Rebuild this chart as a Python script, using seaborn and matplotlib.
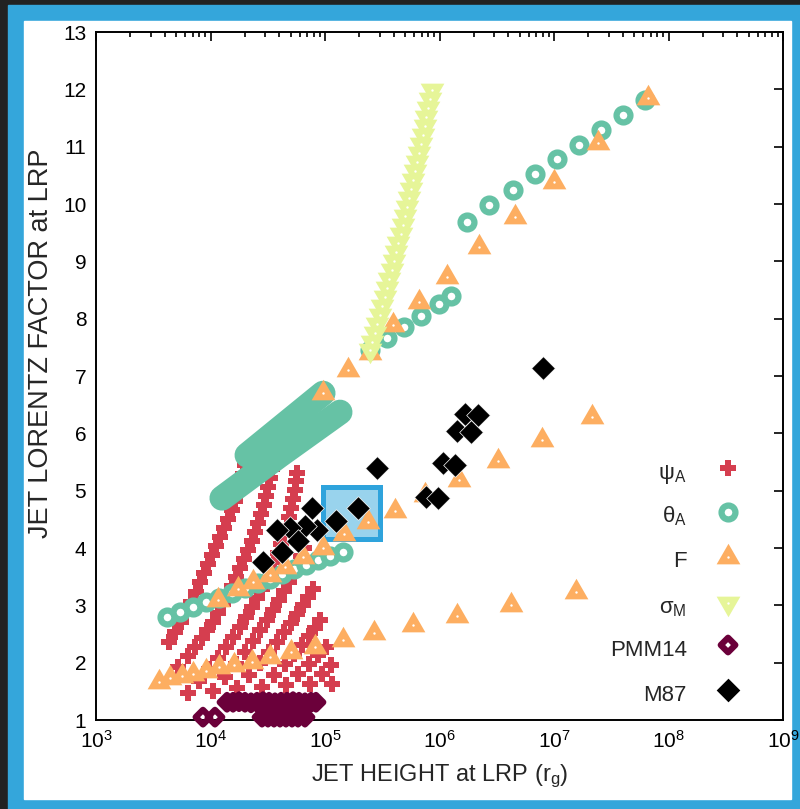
import numpy as np
import matplotlib
matplotlib.use("Agg")
import matplotlib.pyplot as plt
from matplotlib.markers import MarkerStyle
from matplotlib.patches import Rectangle
from matplotlib.ticker import LogLocator, NullLocator
import seaborn as sns

sns.set_style("white")
plt.rcParams["font.family"] = ["Liberation Sans", "DejaVu Sans"]
plt.rcParams["mathtext.fontset"] = "custom"
plt.rcParams["mathtext.rm"] = "Liberation Sans"
plt.rcParams["mathtext.it"] = "Liberation Sans:italic"
plt.rcParams["mathtext.bf"] = "Liberation Sans:bold"

# ---- data: log10 of jet height (r_g) and jet Lorentz factor at the LRP ----
# psi_A, one list per model curve
psi_logh = [
    [3.638, 3.690, 3.742, 3.786, 3.830, 3.873, 3.908, 3.943, 3.978, 4.013,
     4.048, 4.083, 4.118, 4.153, 4.188, 4.214, 4.240, 4.266, 4.284, 4.301],
    [3.716, 3.803, 3.865, 3.926, 3.969, 4.022, 4.066, 4.109, 4.153, 4.188, 4.223, 4.258,
     4.293, 4.328, 4.362, 4.389, 4.415, 4.441, 4.467, 4.485, 4.502, 4.520, 4.537],
    [3.803, 3.900, 3.987, 4.066, 4.135, 4.197, 4.258, 4.310, 4.362, 4.406, 4.450, 4.485,
     4.520, 4.555, 4.590, 4.616, 4.642, 4.668, 4.686, 4.703, 4.721, 4.738, 4.747, 4.755],
    [4.022, 4.127, 4.223, 4.301, 4.371, 4.432, 4.493, 4.546, 4.598, 4.642, 4.686, 4.721,
     4.755, 4.790, 4.817],
    [4.231, 4.336, 4.432, 4.511, 4.581, 4.642, 4.703, 4.755, 4.808, 4.852, 4.895],
    [4.450, 4.555, 4.651, 4.729, 4.799, 4.860, 4.913, 4.956],
    [4.659, 4.764, 4.860, 4.939, 5.009],
    [4.869, 4.974, 5.052],
    [5.061],
]
psi_gamma = [
    [2.36, 2.54, 2.71, 2.88, 3.06, 3.23, 3.41, 3.56, 3.72, 3.88,
     4.04, 4.19, 4.35, 4.51, 4.66, 4.82, 4.98, 5.13, 5.29, 5.45],
    [1.92, 2.12, 2.27, 2.43, 2.57, 2.71, 2.87, 3.02, 3.18, 3.34, 3.49, 3.65,
     3.81, 3.97, 4.12, 4.28, 4.44, 4.59, 4.75, 4.91, 5.06, 5.22, 5.38],
    [1.47, 1.68, 1.89, 2.08, 2.27, 2.45, 2.62, 2.80, 2.97, 3.13, 3.29, 3.44,
     3.60, 3.76, 3.91, 4.07, 4.23, 4.38, 4.54, 4.70, 4.86, 5.01, 5.17, 5.31],
    [1.51, 1.75, 1.98, 2.19, 2.38, 2.57, 2.74, 2.92, 3.09, 3.25, 3.41, 3.56,
     3.72, 3.86, 4.00],
    [1.56, 1.79, 2.00, 2.19, 2.36, 2.54, 2.69, 2.85, 3.01, 3.15, 3.29],
    [1.58, 1.79, 1.98, 2.15, 2.31, 2.47, 2.61, 2.74],
    [1.61, 1.80, 1.98, 2.13, 2.27],
    [1.63, 1.80, 1.96],
    [1.63],
]

# theta_A: two chains of points and two dense bands
theta_low_logh = [3.620, 3.734, 3.847, 3.961, 4.074, 4.188, 4.301, 4.415,
                  4.520, 4.624, 4.729, 4.834, 4.939, 5.044, 5.157]
theta_low_gamma = [2.80, 2.88, 2.97, 3.06, 3.13, 3.22, 3.30, 3.39,
                   3.46, 3.55, 3.63, 3.70, 3.79, 3.86, 3.93]
theta_high_logh = [5.393, 5.541, 5.690, 5.838, 5.996, 6.100, 6.240, 6.432,
                   6.642, 6.834, 7.026, 7.218, 7.410, 7.603, 7.795]
theta_high_gamma = [7.45, 7.66, 7.86, 8.05, 8.26, 8.40, 9.69, 9.98,
                    10.24, 10.52, 10.79, 11.03, 11.29, 11.55, 11.81]
band1_logh = [4.100, 4.607, 5.131]
band1_gamma = [4.87, 5.62, 6.37]
band2_logh = [4.319, 4.983]
band2_gamma = [5.62, 6.70]

# F
f_low_logh = [3.550, 3.646, 3.751, 3.847, 3.961, 4.074, 4.205, 4.362, 4.520,
              4.703, 4.913, 5.157, 5.428, 5.769, 6.153, 6.624, 7.192]
f_low_gamma = [1.66, 1.73, 1.77, 1.80, 1.86, 1.92, 1.96, 2.01, 2.10,
               2.19, 2.27, 2.40, 2.52, 2.66, 2.81, 3.01, 3.23]
f_mid_logh = [4.066, 4.240, 4.371, 4.520, 4.651, 4.808, 4.983, 5.166,
              5.376, 5.611, 5.873, 6.170, 6.511, 6.895, 7.332]
f_mid_gamma = [3.09, 3.29, 3.41, 3.53, 3.67, 3.84, 4.00, 4.24,
               4.45, 4.65, 4.93, 5.19, 5.52, 5.88, 6.29]
f_high_logh = [4.983, 5.201, 5.393, 5.594, 5.821, 6.066, 6.345, 6.659, 7.000, 7.384, 7.821]
f_high_gamma = [6.70, 7.10, 7.40, 7.89, 8.29, 8.73, 9.25, 9.77, 10.38, 11.06, 11.85]

# sigma_M
sigma_logh = [5.934, 5.919, 5.903, 5.886, 5.871, 5.855, 5.838, 5.822, 5.804, 5.788,
              5.770, 5.753, 5.735, 5.717, 5.698, 5.679, 5.660, 5.641, 5.621, 5.601,
              5.582, 5.561, 5.540, 5.520, 5.498, 5.477, 5.455, 5.433, 5.412, 5.393]
sigma_gamma = [11.99, 11.83, 11.68, 11.52, 11.36, 11.20, 11.05, 10.89, 10.73, 10.58,
               10.42, 10.26, 10.11, 9.95, 9.79, 9.63, 9.48, 9.32, 9.16, 9.01,
               8.85, 8.69, 8.54, 8.38, 8.22, 8.06, 7.91, 7.75, 7.59, 7.45]

# PMM14
pmm_logh = [4.144, 4.197, 4.249, 4.301, 4.354, 4.406, 4.459, 4.511, 4.563, 4.616,
            4.668, 4.721, 4.773, 4.825, 4.878, 4.921,
            3.934, 4.039, 4.450, 4.502, 4.555, 4.607, 4.659, 4.712, 4.764, 4.825]
pmm_gamma = [1.31, 1.31, 1.32, 1.31, 1.30, 1.31, 1.32, 1.31, 1.30, 1.31,
             1.31, 1.32, 1.31, 1.30, 1.31, 1.31,
             1.05, 1.05, 1.05, 1.05, 1.05, 1.05, 1.05, 1.05, 1.05, 1.05]

# M87
m87_logh = [6.904, 6.223, 6.336, 6.153, 6.275, 6.031, 6.135, 5.882, 5.987, 5.454,
            5.288, 5.096, 4.886, 4.930, 4.825, 4.694, 4.581, 4.764, 4.624, 4.459]
m87_gamma = [7.14, 6.34, 6.32, 6.04, 6.02, 5.48, 5.45, 4.89, 4.87, 5.40,
             4.70, 4.47, 4.70, 4.31, 4.38, 4.35, 4.31, 4.12, 3.93, 3.76]

# highlighted region
box_h = [9.7e4, 3.05e5]
box_gamma = [4.15, 5.06]

# ---- style ----
c_psi, c_theta, c_f = "#d53e4f", "#66c2a5", "#fdae61"
c_sigma, c_pmm, c_m87 = "#e6f598", "#6b003a", "black"

tri_up = MarkerStyle((3, 0, 0))
tri_dn = MarkerStyle((3, 0, 180))
diam = MarkerStyle((4, 0, 0), joinstyle="miter")

s_psi, s_circ, s_tri, s_pmm, s_m87 = 140, 100, 390, 110, 290
lw_ring = 4.5

fig = plt.figure(figsize=(8, 8.09), dpi=100)
fig.patch.set_facecolor("#222222")
fig.add_artist(Rectangle((8 / 800, 0), 792 / 800, 804 / 809, transform=fig.transFigure,
                         color="#34a6db", zorder=-10))
fig.add_artist(Rectangle((24 / 800, 10 / 809), 767 / 800, 778 / 809, transform=fig.transFigure,
                         color="white", zorder=-9))
ax = fig.add_axes([0.12, 0.110, 0.85875, 0.8504])
ax.set_xscale("log")

ax.add_patch(Rectangle((box_h[0], box_gamma[0]), box_h[1] - box_h[0], box_gamma[1] - box_gamma[0],
                       facecolor="#99d3ed", edgecolor="#2ea3dc", lw=3.6, zorder=1))

# psi_A
for lh, g in zip(psi_logh, psi_gamma):
    sns.scatterplot(x=10 ** np.array(lh), y=g, ax=ax, marker="P", s=s_psi, color=c_psi,
                    linewidth=0, zorder=2)

# theta_A bands + chains
for lh, g in [(band1_logh, band1_gamma), (band2_logh, band2_gamma)]:
    sns.lineplot(x=10 ** np.array(lh), y=g, ax=ax, sort=False, estimator=None, color=c_theta,
                 lw=18, solid_capstyle="round", zorder=3)
for lh, g in [(theta_low_logh, theta_low_gamma), (theta_high_logh, theta_high_gamma)]:
    sns.scatterplot(x=10 ** np.array(lh), y=g, ax=ax, marker="o", s=s_circ, facecolor="white",
                    edgecolor=c_theta, linewidth=lw_ring, zorder=3)

# F
for lh, g in [(f_low_logh, f_low_gamma), (f_mid_logh, f_mid_gamma), (f_high_logh, f_high_gamma)]:
    x = 10 ** np.array(lh)
    sns.scatterplot(x=x, y=g, ax=ax, marker=tri_up, s=s_tri, color=c_f, linewidth=0, zorder=4)
    sns.scatterplot(x=x, y=g, ax=ax, marker="o", s=3, color="white", linewidth=0, zorder=4.1)

# sigma_M
x = 10 ** np.array(sigma_logh)
sns.scatterplot(x=x, y=sigma_gamma, ax=ax, marker=tri_dn, s=s_tri, color=c_sigma, linewidth=0, zorder=5)
sns.scatterplot(x=x, y=sigma_gamma, ax=ax, marker="o", s=3, color="white", linewidth=0, zorder=5.1)

# PMM14
sns.scatterplot(x=10 ** np.array(pmm_logh), y=pmm_gamma, ax=ax, marker=diam, s=s_pmm,
                facecolor="none", edgecolor=c_pmm, linewidth=lw_ring, zorder=6, clip_on=False)

# M87
sns.scatterplot(x=10 ** np.array(m87_logh), y=m87_gamma, ax=ax, marker=diam, s=s_m87,
                color=c_m87, edgecolor="white", linewidth=0.5, zorder=7)

# ---- legend drawn by hand, gnuplot style ----
labels = ["ψ$_{\\mathrm{A}}$", "θ$_{\\mathrm{A}}$", "F", "σ$_{\\mathrm{M}}$", "PMM14", "M87"]
rows = [0.366, 0.302, 0.237, 0.170, 0.109, 0.0436]
styles = [
    dict(marker="P", s=s_psi, color=c_psi, linewidth=0),
    dict(marker="o", s=s_circ, facecolor="white", edgecolor=c_theta, linewidth=lw_ring),
    dict(marker=tri_up, s=s_tri, color=c_f, linewidth=0),
    dict(marker=tri_dn, s=s_tri, color=c_sigma, linewidth=0),
    dict(marker=diam, s=s_pmm, facecolor="none", edgecolor=c_pmm, linewidth=lw_ring),
    dict(marker=diam, s=s_m87, color=c_m87, linewidth=0),
]
for lab, yy, st in zip(labels, rows, styles):
    ax.text(0.86, yy - 0.0153, lab, transform=ax.transAxes, ha="right", va="baseline",
            fontsize=16)
    ax.scatter([0.92], [yy], transform=ax.transAxes, zorder=8, **st)
    if lab in ("F", "σ$_{\\mathrm{M}}$"):
        ax.scatter([0.92], [yy], transform=ax.transAxes, marker="o", s=3, color="white",
                   linewidth=0, zorder=9)

# ---- axes ----
ax.set_xlim(1e3, 1e9)
ax.set_ylim(1, 13)
ax.set_yticks(range(1, 14))
ax.xaxis.set_major_locator(LogLocator(base=10, numticks=10))
ax.xaxis.set_minor_locator(LogLocator(base=10, subs=np.arange(2, 10), numticks=20))
ax.yaxis.set_minor_locator(NullLocator())
ax.tick_params(which="both", direction="in", top=True, right=True, width=1.2, colors="black")
ax.tick_params(which="major", length=6.5, labelsize=15, pad=7)
ax.tick_params(which="minor", length=3.3)
for sp in ax.spines.values():
    sp.set_linewidth(1.4)
    sp.set_color("black")
ax.set_xlabel("JET HEIGHT at LRP (r$_{\\mathrm{g}}$)", fontsize=17, labelpad=8)
ax.set_ylabel("JET LORENTZ FACTOR at LRP", fontsize=19.5)
ax.yaxis.set_label_coords(-0.061, 0.548)
ax.grid(False)

fig.savefig("out.png", dpi=100, facecolor=fig.get_facecolor())
